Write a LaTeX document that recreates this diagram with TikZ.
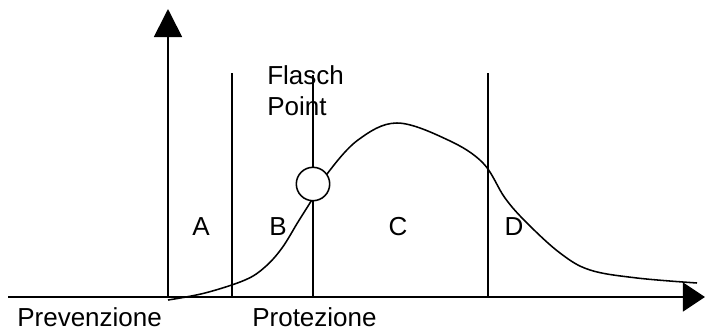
\documentclass[tikz,border=0pt]{standalone}
\usepackage{fontspec}
\setmainfont{Liberation Sans}
\usetikzlibrary{arrows.meta}

\begin{document}
\begin{tikzpicture}[
        x=0.025cm, y=-0.025cm,
        axis/.style={line width=1.2pt, black},
        sep/.style={line width=1.1pt, black},
        curve/.style={line width=1.1pt, black},
        lab/.style={font=\fontsize{18.5}{22}\selectfont, inner sep=0pt, align=left}
    ]
    \useasboundingbox (0,0) rectangle (705,331);

    % Assi
    \coordinate (o)    at (168,297);
    \coordinate (xs)   at (8,297);
    \coordinate (xe)   at (705,297);
    \coordinate (ye)   at (168,9);
    \draw [axis, -{Triangle[length=0.55cm, width=0.72cm]}] (xs) -- (xe);
    \draw [axis, -{Triangle[length=0.7cm, width=0.7cm]}] (o) -- (ye);

    % Linee di separazione delle zone
    \coordinate (ab)   at (232,297);
    \coordinate (bc)   at (313,297);
    \coordinate (cd)   at (488,297);
    \draw [sep] (ab) -- (232,73);
    \draw [sep] (bc) -- (313,75);
    \draw [sep] (cd) -- (488,73);

    % Curva
    \draw [curve] plot[smooth, tension=0.6] coordinates {
        (168,300) (205,293) (245,280) (265,267) (282,248) (298,222) (313,198)
        (327,174) (358,140) (397,123) (448,140) (483,163) (505,198)
        (527,223) (560,253) (590,270) (637,278) (697,283)};

    % Flash point
    \node (fp) [circle, draw, line width=1.1pt, fill=white, minimum size=33.4*0.025cm, inner sep=0pt] at (313,184) {};

    % Etichette
    \node (flash) [lab, anchor=north west] at (267,65) {Flasch\\Point};
    \node (zA) [lab] at (201,227) {A};
    \node (zB) [lab] at (278,227) {B};
    \node (zC) [lab] at (398,227) {C};
    \node (zD) [lab] at (514,227) {D};
    \node (prev) [lab, anchor=base west] at (17,326) {Prevenzione};
    \node (prot) [lab, anchor=base west] at (252,326) {Protezione};
\end{tikzpicture}
\end{document}
